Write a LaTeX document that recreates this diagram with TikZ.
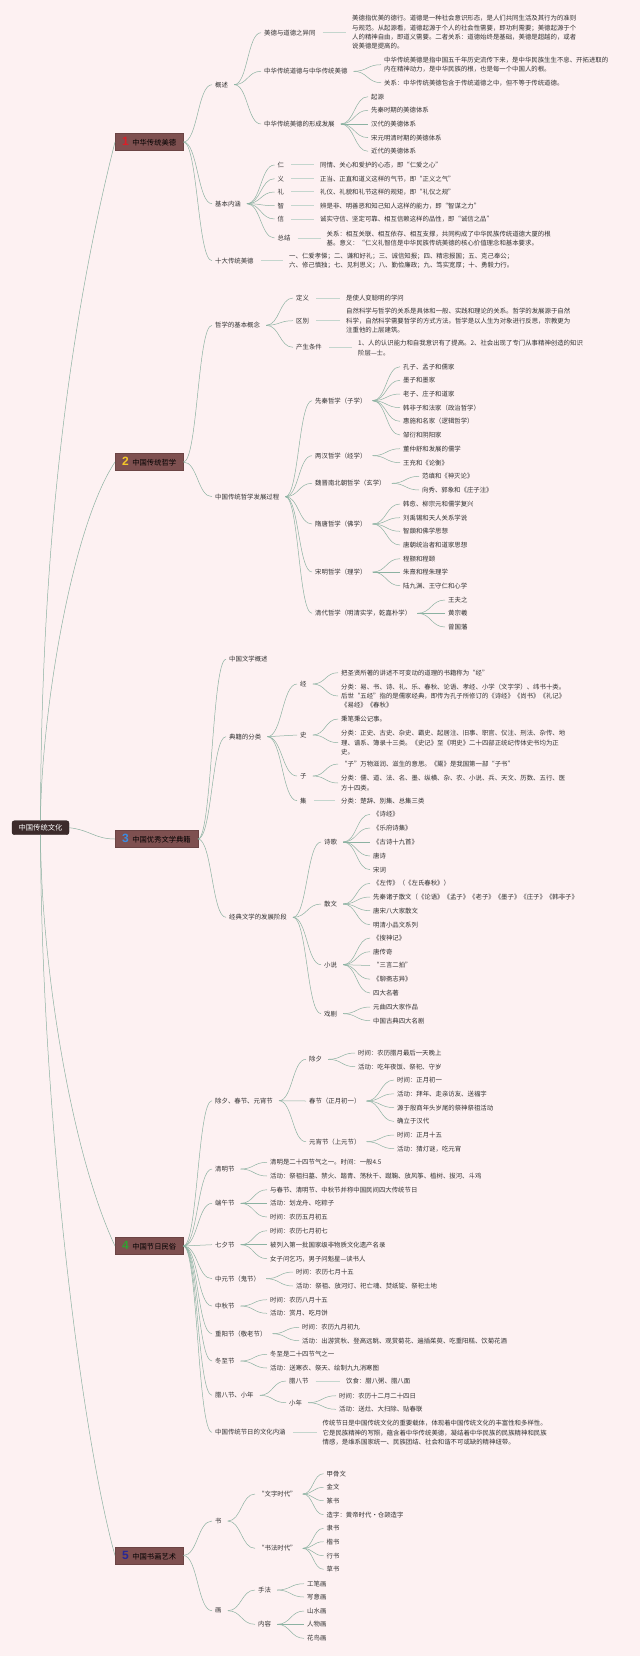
\documentclass[tikz,border=0pt]{standalone}
\usepackage{fontspec}
\setmainfont{Noto Sans CJK SC}
\newfontfamily\numfont{Liberation Sans}
\usetikzlibrary{calc}
\definecolor{bgc}{RGB}{253,241,242}
\definecolor{lnk}{RGB}{140,178,162}
\definecolor{flt}{RGB}{196,214,206}
\definecolor{txt}{RGB}{50,50,50}
\definecolor{catf}{RGB}{126,80,80}
\definecolor{rootf}{RGB}{60,43,43}
\definecolor{cA}{RGB}{220,30,40}
\definecolor{cB}{RGB}{245,200,40}
\definecolor{cC}{RGB}{60,140,225}
\definecolor{cD}{RGB}{50,160,50}
\definecolor{cE}{RGB}{40,40,150}
\tikzset{
  t/.style={anchor=west, xshift=-3pt, align=left, text=txt, font=\fontsize{6.4}{9.3}\selectfont, inner xsep=3pt, inner ysep=1pt},
  cat/.style={anchor=west, draw=catf!85!black, line width=0.4pt, fill=catf, text=black, font=\fontsize{7.3}{8}\selectfont, minimum height=17pt, inner xsep=7pt, inner ysep=1pt},
  rootbox/.style={draw=rootf!70!black, fill=rootf, rounded corners=2.5pt, text=white, font=\fontsize{7.3}{8}\selectfont, minimum width=57pt, minimum height=14pt, inner sep=1pt},
  link/.style={draw=lnk, line width=0.5pt},
  flat/.style={draw=flt, line width=1pt},
}
\newcommand\cnum[2]{\textcolor{#1}{\numfont\bfseries\fontsize{12}{12}\selectfont #2}\hspace{3.5pt}}
\newcommand\mmlink[3][3pt]{\draw[link] let \p1=([xshift=#1]#2.east), \p2=(#3.west) in (\p1) .. controls ({0.5*\x1+0.5*\x2},\y1) and ({0.5*\x1+0.5*\x2},\y2) .. (\p2);}
\newcommand\mmflat[2]{\draw[flat] let \p1=(#1.east), \p2=(#2.west) in ({\x1+4pt},\y1) -- ({\x2-3pt},\y1);}
\newcommand\leaf[5]{\node[t] (#1) at (#2,#3) {#4}; \mmlink{#5}{#1}}
\begin{document}
\begin{tikzpicture}[x=1pt,y=-1pt]
\fill[bgc] (0,0) rectangle (640,1656);
\useasboundingbox (0,0) rectangle (640,1656);

% root and categories
\node[rootbox] (r) at (40.5,827.7) {中国传统文化};
\node[cat] (b1) at (115,142) {\cnum{cA}{1}中华传统美德};
\node[cat] (b2) at (115,462) {\cnum{cB}{2}中国传统哲学};
\node[cat] (b3) at (115,839) {\cnum{cC}{3}中国优秀文学典籍};
\node[cat] (b4) at (115,1246) {\cnum{cD}{4}中国节日民俗};
\node[cat] (b5) at (115,1555.5) {\cnum{cE}{5}中国书画艺术};
\draw[link] (r.north) .. controls (41,520) and (75,300) .. (b1.west);
\draw[link] (r.north) .. controls (41,720) and (70,530) .. (b2.west);
\draw[link] (r.east) .. controls (90,830) and (95,839) .. (b3.west);
\draw[link] (r.south) .. controls (41,960) and (70,1150) .. (b4.west);
\draw[link] (r.south) .. controls (41,1100) and (80,1430) .. (b5.west);

% ===== 1 =====
\node[t] (gs) at (215,84.7) {概述}; \mmlink[0pt]{b1}{gs}
\node[t] (jb) at (215,203.7) {基本内涵}; \mmlink[0pt]{b1}{jb}
\node[t] (sd) at (215,260.7) {十大传统美德}; \mmlink[0pt]{b1}{sd}
\leaf{yt}{264}{32.7}{美德与道德之异同}{gs}
\leaf{ch}{264}{71.3}{中华传统道德与中华传统美德}{gs}
\leaf{xc}{264}{124}{中华传统美德的形成发展}{gs}
\node[t] (ytx) at (352,32.3) {美德指优美的德行。道德是一种社会意识形态，是人们共同生活及其行为的准则\\与规范。从起源看，道德起源于个人的社会性需要，即功利需要；美德起源于个\\人的精神自由，即道义需要。二者关系：道德始终是基础，美德是超越的，或者\\说美德是提高的。}; \mmflat{yt}{ytx}
\leaf{chA}{384}{64.7}{中华传统美德是指中国五千年历史流传下来，是中华民族生生不息、开拓进取的\\内在精神动力，是中华民族的根，也是每一个中国人的根。}{ch}
\leaf{chB}{384}{82.7}{关系：中华传统美德包含于传统道德之中，但不等于传统道德。}{ch}
\leaf{xcA}{371}{96.7}{起源}{xc}
\leaf{xcB}{371}{110.3}{先秦时期的美德体系}{xc}
\leaf{xcC}{371}{124}{汉代的美德体系}{xc}
\leaf{xcD}{371}{137.6}{宋元明清时期的美德体系}{xc}
\leaf{xcE}{371}{151.3}{近代的美德体系}{xc}
\leaf{ren}{277.5}{165}{仁}{jb}
\leaf{yi}{277.5}{178.7}{义}{jb}
\leaf{li}{277.5}{192}{礼}{jb}
\leaf{zhi}{277.5}{205.7}{智}{jb}
\leaf{xin}{277.5}{219}{信}{jb}
\leaf{zj}{277.5}{238}{总结}{jb}
\node[t] (renT) at (320,165) {同情、关心和爱护的心态，即“仁爱之心”}; \mmflat{ren}{renT}
\node[t] (yiT) at (320,178.7) {正当、正直和道义这样的气节，即“正义之气”}; \mmflat{yi}{yiT}
\node[t] (liT) at (320,192) {礼仪、礼貌和礼节这样的规矩，即“礼仪之规”}; \mmflat{li}{liT}
\node[t] (zhiT) at (320,205.7) {辨是非、明善恶和知己知人这样的能力，即“智谋之力”}; \mmflat{zhi}{zhiT}
\node[t] (xinT) at (320,219) {诚实守信、坚定可靠、相互信赖这样的品性，即“诚信之品”}; \mmflat{xin}{xinT}
\node[t] (zjT) at (326.5,238.3) {关系：相互关联、相互依存、相互支撑，共同构成了中华民族传统道德大厦的根\\基。意义：“仁义礼智信是中华民族传统美德的核心价值理念和基本要求。}; \mmflat{zj}{zjT}
\node[t] (sdT) at (289,261) {一、仁爱孝悌；二、谦和好礼；三、诚信知报；四、精忠报国；五、克己奉公；\\六、修己慎独；七、见利思义；八、勤俭廉政；九、笃实宽厚；十、勇毅力行。}; \mmflat{sd}{sdT}

% ===== 2 =====
\node[t] (zx) at (215,325.3) {哲学的基本概念}; \mmlink[0pt]{b2}{zx}
\node[t] (fz) at (215,496.7) {中国传统哲学发展过程}; \mmlink[0pt]{b2}{fz}
\leaf{dy}{296}{298}{定义}{zx}
\leaf{qb}{296}{320.7}{区别}{zx}
\leaf{cs}{296}{347.3}{产生条件}{zx}
\node[t] (dyT) at (346,298) {是使人变聪明的学问}; \mmflat{dy}{dyT}
\node[t] (qbT) at (346,320.7) {自然科学与哲学的关系是具体和一般、实践和理论的关系。哲学的发展源于自然\\科学，自然科学需要哲学的方式方法。哲学是以人生为对象进行反思，宗教更为\\注重他的上层建筑。}; \mmflat{qb}{qbT}
\node[t] (csT) at (358,348) {1、人的认识能力和自我意识有了提高。2、社会出现了专门从事精神创造的知识\\阶层—士。}; \mmflat{cs}{csT}
\leaf{xq}{315}{400.7}{先秦哲学（子学）}{fz}
\leaf{lh}{315}{455.7}{两汉哲学（经学）}{fz}
\leaf{wj}{315}{483.3}{魏晋南北朝哲学（玄学）}{fz}
\leaf{st}{315}{524}{隋唐哲学（佛学）}{fz}
\leaf{sm}{315}{572}{宋明哲学（理学）}{fz}
\leaf{qd}{315}{613.3}{清代哲学（明清实学，乾嘉朴学）}{fz}
\leaf{xqA}{403}{366.7}{孔子、孟子和儒家}{xq}
\leaf{xqB}{403}{380.3}{墨子和墨家}{xq}
\leaf{xqC}{403}{394}{老子、庄子和道家}{xq}
\leaf{xqD}{403}{407.6}{韩非子和法家（政治哲学）}{xq}
\leaf{xqE}{403}{421.3}{惠施和名家（逻辑哲学）}{xq}
\leaf{xqF}{403}{435}{邹衍和阴阳家}{xq}
\leaf{lhA}{403}{448.7}{董仲舒和发展的儒学}{lh}
\leaf{lhB}{403}{462.7}{王充和《论衡》}{lh}
\leaf{wjA}{422}{476.3}{范缜和《神灭论》}{wj}
\leaf{wjB}{422}{490}{向秀、郭象和《庄子注》}{wj}
\leaf{stA}{403}{504}{韩愈、柳宗元和儒学复兴}{st}
\leaf{stB}{403}{517.7}{刘禹锡和天人关系学说}{st}
\leaf{stC}{403}{531.3}{智顗和佛学思想}{st}
\leaf{stD}{403}{545}{唐朝统治者和道家思想}{st}
\leaf{smA}{403}{558.7}{程颢和程颐}{sm}
\leaf{smB}{403}{572}{朱熹和程朱理学}{sm}
\leaf{smC}{403}{585.7}{陆九渊、王守仁和心学}{sm}
\leaf{qdA}{448}{600}{王夫之}{qd}
\leaf{qdB}{448}{613.3}{黄宗羲}{qd}
\leaf{qdC}{448}{627}{曾国藩}{qd}

% ===== 3 =====
\node[t] (gk) at (229,659.3) {中国文学概述}; \mmlink[0pt]{b3}{gk}
\node[t] (dj) at (229,736.7) {典籍的分类}; \mmlink[0pt]{b3}{dj}
\node[t] (jd) at (229,917.3) {经典文学的发展阶段}; \mmlink[0pt]{b3}{jd}
\leaf{jing}{300}{684}{经}{dj}
\leaf{shi}{300}{735}{史}{dj}
\leaf{zi}{300}{776}{子}{dj}
\leaf{ji}{300}{800.7}{集}{dj}
\leaf{jingA}{341}{672.7}{把圣贤所著的讲述不可变动的道理的书籍称为“经”}{jing}
\leaf{jingB}{341}{696}{分类：易、书、诗、礼、乐、春秋、论语、孝经、小学（文字学）、纬书十类。\\后世“五经”指的是儒家经典，即传为孔子所修订的《诗经》《尚书》《礼记》\\《易经》《春秋》}{jing}
\leaf{shiA}{341}{719}{秉笔秉公记事。}{shi}
\leaf{shiB}{341}{742.7}{分类：正史、古史、杂史、霸史、起居注、旧事、职官、仪注、刑法、杂传、地\\理、谱系、簿录十三类。《史记》至《明史》二十四部正统纪传体史书均为正\\史。}{shi}
\leaf{ziA}{341}{764}{“子”万物滋润、滋生的意思。《鬻》是我国第一部“子书”}{zi}
\leaf{ziB}{341}{783}{分类：儒、道、法、名、墨、纵横、杂、农、小说、兵、天文、历数、五行、医\\方十四类。}{zi}
\node[t] (jiT) at (341,800.7) {分类：楚辞、别集、总集三类}; \mmflat{ji}{jiT}
\leaf{sg}{324}{842}{诗歌}{jd}
\leaf{sw}{324}{904}{散文}{jd}
\leaf{xs}{324}{964.7}{小说}{jd}
\leaf{xj}{324}{1013.7}{戏剧}{jd}
\leaf{sgA}{373}{814.3}{《诗经》}{sg}
\leaf{sgB}{373}{828}{《乐府诗集》}{sg}
\leaf{sgC}{373}{842}{《古诗十九首》}{sg}
\leaf{sgD}{373}{856}{唐诗}{sg}
\leaf{sgE}{373}{869.7}{宋词}{sg}
\leaf{swA}{373}{883.3}{《左传》（《左氏春秋》）}{sw}
\leaf{swB}{373}{897}{先秦诸子散文（《论语》《孟子》《老子》《墨子》《庄子》《韩非子》}{sw}
\leaf{swC}{373}{910.7}{唐宋八大家散文}{sw}
\leaf{swD}{373}{924.7}{明清小品文系列}{sw}
\leaf{xsA}{373}{938}{《搜神记》}{xs}
\leaf{xsB}{373}{951.7}{唐传奇}{xs}
\leaf{xsC}{373}{965.5}{“三言二拍”}{xs}
\leaf{xsD}{373}{979.2}{《聊斋志异》}{xs}
\leaf{xsE}{373}{993}{四大名著}{xs}
\leaf{xjA}{373}{1007}{元曲四大家作品}{xj}
\leaf{xjB}{373}{1020.7}{中国古典四大名剧}{xj}

% ===== 4 =====
\node[t] (cx) at (215,1100.7) {除夕、春节、元宵节}; \mmlink[0pt]{b4}{cx}
\node[t] (qm) at (215,1169) {清明节}; \mmlink[0pt]{b4}{qm}
\node[t] (dw) at (215,1203.3) {端午节}; \mmlink[0pt]{b4}{dw}
\node[t] (qx) at (215,1244.7) {七夕节}; \mmlink[0pt]{b4}{qx}
\node[t] (zy) at (215,1278.7) {中元节（鬼节）}; \mmlink[0pt]{b4}{zy}
\node[t] (zq) at (215,1306) {中秋节}; \mmlink[0pt]{b4}{zq}
\node[t] (cy) at (215,1333.7) {重阳节（敬老节）}; \mmlink[0pt]{b4}{cy}
\node[t] (dz) at (215,1361) {冬至节}; \mmlink[0pt]{b4}{dz}
\node[t] (lx) at (215,1395.3) {腊八节、小年}; \mmlink[0pt]{b4}{lx}
\node[t] (wh) at (215,1432.3) {中国传统节日的文化内涵}; \mmlink[0pt]{b4}{wh}
\leaf{chx}{309}{1059.3}{除夕}{cx}
\leaf{cj}{309}{1101}{春节（正月初一）}{cx}
\leaf{yx}{309}{1141.7}{元宵节（上元节）}{cx}
\leaf{chxA}{358}{1053}{时间：农历腊月最后一天晚上}{chx}
\leaf{chxB}{358}{1066.7}{活动：吃年夜饭、祭祀、守岁}{chx}
\leaf{cjA}{397}{1080}{时间：正月初一}{cj}
\leaf{cjB}{397}{1093.8}{活动：拜年、走亲访友、送福字}{cj}
\leaf{cjC}{397}{1107.6}{源于殷商年头岁尾的祭神祭祖活动}{cj}
\leaf{cjD}{397}{1121.4}{确立于汉代}{cj}
\leaf{yxA}{397}{1135}{时间：正月十五}{yx}
\leaf{yxB}{397}{1148.7}{活动：猜灯谜，吃元宵}{yx}
\leaf{qmA}{270}{1162.3}{清明是二十四节气之一。时间：一般4.5}{qm}
\leaf{qmB}{270}{1176}{活动：祭祖扫墓、禁火、踏青、荡秋千、蹴鞠、放风筝、植树、拔河、斗鸡}{qm}
\leaf{dwA}{270}{1189.7}{与春节、清明节、中秋节并称中国民间四大传统节日}{dw}
\leaf{dwB}{270}{1203.3}{活动：划龙舟、吃粽子}{dw}
\leaf{dwC}{270}{1217}{时间：农历五月初五}{dw}
\leaf{qxA}{270}{1230.7}{时间：农历七月初七}{qx}
\leaf{qxB}{270}{1244.7}{被列入第一批国家级非物质文化遗产名录}{qx}
\leaf{qxC}{270}{1258.7}{女子问乞巧，男子问魁星—读书人}{qx}
\leaf{zyA}{296}{1272}{时间：农历七月十五}{zy}
\leaf{zyB}{296}{1286}{活动：祭祖、放河灯、祀亡魂、焚纸锭、祭祀土地}{zy}
\leaf{zqA}{270}{1299.7}{时间：农历八月十五}{zq}
\leaf{zqB}{270}{1313.3}{活动：赏月、吃月饼}{zq}
\leaf{cyA}{302}{1327.3}{时间：农历九月初九}{cy}
\leaf{cyB}{302}{1340.7}{活动：出游赏秋、登高远眺、观赏菊花、遍插茱萸、吃重阳糕、饮菊花酒}{cy}
\leaf{dzA}{270}{1354.3}{冬至是二十四节气之一}{dz}
\leaf{dzB}{270}{1368}{活动：送寒衣、祭天、绘制九九消寒图}{dz}
\leaf{lb}{289}{1381}{腊八节}{lx}
\leaf{xn}{289}{1402.7}{小年}{lx}
\node[t] (lbT) at (346,1381) {饮食：腊八粥、腊八面}; \mmflat{lb}{lbT}
\leaf{xnA}{339}{1395.7}{时间：农历十二月二十四日}{xn}
\leaf{xnB}{339}{1409.3}{活动：送灶、大扫除、贴春联}{xn}
\node[t] (whT) at (322.5,1432.7) {传统节日是中国传统文化的重要载体，体现着中国传统文化的丰富性和多样性。\\它是民族精神的写照，蕴含着中华传统美德，凝结着中华民族的民族精神和民族\\情感，是维系国家统一、民族团结、社会和谐不可或缺的精神纽带。}; \mmflat{wh}{whT}

% ===== 5 =====
\node[t] (shu) at (215,1521) {书}; \mmlink[0pt]{b5}{shu}
\node[t] (hua) at (215,1610.7) {画}; \mmlink[0pt]{b5}{hua}
\leaf{wz}{258}{1494}{“文字时代”}{shu}
\leaf{sf}{258}{1548.3}{“书法时代”}{shu}
\leaf{wzA}{326.5}{1473.7}{甲骨文}{wz}
\leaf{wzB}{326.5}{1487.3}{金文}{wz}
\leaf{wzC}{326.5}{1500.7}{篆书}{wz}
\leaf{wzD}{326.5}{1514.7}{造字：黄帝时代·仓颉造字}{wz}
\leaf{sfA}{326.5}{1528.3}{隶书}{sf}
\leaf{sfB}{326.5}{1541.7}{楷书}{sf}
\leaf{sfC}{326.5}{1555.7}{行书}{sf}
\leaf{sfD}{326.5}{1569.3}{草书}{sf}
\leaf{shf}{258}{1590}{手法}{hua}
\leaf{nr}{258}{1624.3}{内容}{hua}
\leaf{shfA}{307}{1583.7}{工笔画}{shf}
\leaf{shfB}{307}{1597}{写意画}{shf}
\leaf{nrA}{307}{1611}{山水画}{nr}
\leaf{nrB}{307}{1624.3}{人物画}{nr}
\leaf{nrC}{307}{1638.3}{花鸟画}{nr}
\end{tikzpicture}
\end{document}
